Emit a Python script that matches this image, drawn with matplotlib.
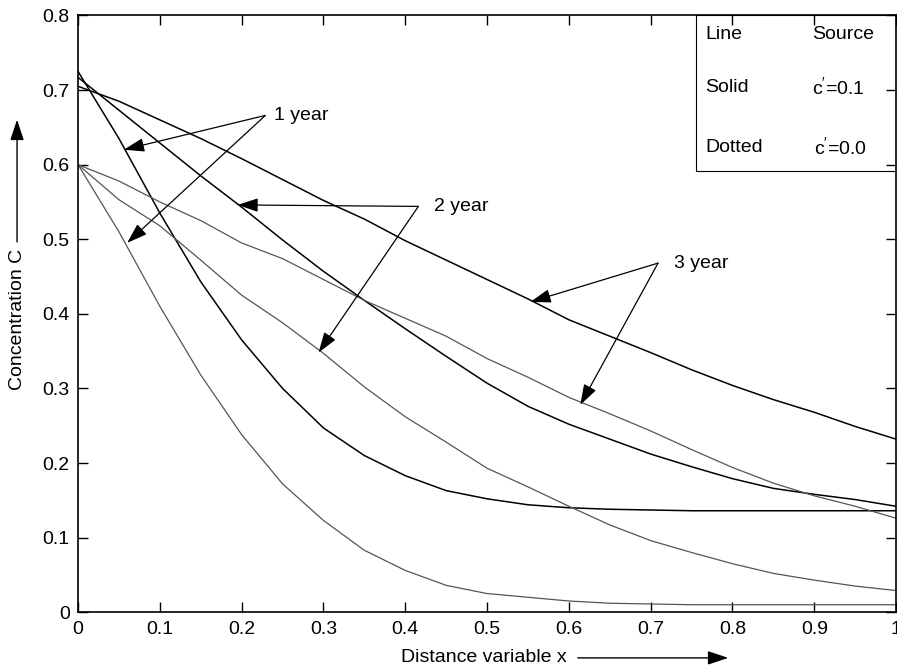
import numpy as np
import matplotlib
matplotlib.use("Agg")
import matplotlib.pyplot as plt
from matplotlib.patches import Rectangle, FancyArrowPatch

plt.rcParams["font.family"] = ["Liberation Sans", "DejaVu Sans"]
plt.rcParams["mathtext.fontset"] = "custom"
plt.rcParams["mathtext.rm"] = "Liberation Sans"

# distance grid
x = np.round(np.arange(0, 1.0001, 0.05), 2)

# solid lines, source c'=0.1
solid_1yr = [0.725, 0.635, 0.535, 0.443, 0.365, 0.30, 0.247, 0.21, 0.183, 0.163, 0.152,
             0.144, 0.140, 0.138, 0.137, 0.136, 0.136, 0.136, 0.136, 0.136, 0.136]
solid_2yr = [0.717, 0.673, 0.629, 0.585, 0.543, 0.499, 0.457, 0.418, 0.38, 0.343, 0.307,
             0.276, 0.252, 0.232, 0.212, 0.195, 0.179, 0.166, 0.158, 0.151, 0.142]
solid_3yr = [0.705, 0.685, 0.66, 0.635, 0.608, 0.58, 0.552, 0.527, 0.498, 0.472, 0.446,
             0.42, 0.392, 0.37, 0.348, 0.325, 0.304, 0.285, 0.268, 0.249, 0.232]

# dotted lines, source c'=0.0
dotted_1yr = [0.60, 0.51, 0.41, 0.318, 0.238, 0.172, 0.123, 0.083, 0.056, 0.036, 0.025,
              0.02, 0.015, 0.012, 0.011, 0.01, 0.01, 0.01, 0.01, 0.01, 0.01]
dotted_2yr = [0.60, 0.553, 0.518, 0.472, 0.425, 0.388, 0.347, 0.302, 0.262, 0.228, 0.193,
              0.168, 0.142, 0.117, 0.096, 0.08, 0.065, 0.052, 0.043, 0.035, 0.029]
dotted_3yr = [0.60, 0.578, 0.55, 0.525, 0.495, 0.474, 0.446, 0.418, 0.394, 0.37, 0.34,
              0.315, 0.288, 0.266, 0.243, 0.218, 0.194, 0.173, 0.156, 0.142, 0.126]

xticks = [0, 0.1, 0.2, 0.3, 0.4, 0.5, 0.6, 0.7, 0.8, 0.9, 1.0]
xtick_labels = ["0", "0.1", "0.2", "0.3", "0.4", "0.5", "0.6", "0.7", "0.8", "0.9", "1"]
yticks = [0, 0.1, 0.2, 0.3, 0.4, 0.5, 0.6, 0.7, 0.8]
ytick_labels = ["0", "0.1", "0.2", "0.3", "0.4", "0.5", "0.6", "0.7", "0.8"]

# annotation: label, text position, arrow tail, arrow heads
notes = [
    ("1 year", (0.239, 0.666), (0.229, 0.666), [(0.056, 0.620), (0.060, 0.495)]),
    ("2 year", (0.435, 0.544), (0.416, 0.544), [(0.195, 0.546), (0.294, 0.348)]),
    ("3 year", (0.728, 0.468), (0.709, 0.468), [(0.553, 0.416), (0.614, 0.278)]),
]

fig = plt.figure(figsize=(8.97, 6.72), dpi=100)
ax = fig.add_axes([0.087, 0.089, 0.912, 0.888])

for yv in (solid_1yr, solid_2yr, solid_3yr):
    ax.plot(x, yv, color="black", lw=1.1)
for yv in (dotted_1yr, dotted_2yr, dotted_3yr):
    ax.plot(x, yv, color="#555555", lw=0.9)

arrow_kw = dict(arrowstyle="-|>,head_length=0.9,head_width=0.3", color="black",
                lw=0.9, mutation_scale=14, shrinkA=0, shrinkB=0)
for label, tpos, tail, heads in notes:
    ax.text(tpos[0], tpos[1], label, fontsize=14, va="center", ha="left")
    for h in heads:
        ax.annotate("", xy=h, xytext=tail, arrowprops=arrow_kw)

# legend-like box
ax.add_patch(Rectangle((0.755, 0.592), 0.245, 0.208, fill=False, edgecolor="black",
                       lw=0.8, zorder=1))
ax.text(0.767, 0.775, "Line", fontsize=14, va="center")
ax.text(0.897, 0.775, "Source", fontsize=14, va="center")
ax.text(0.767, 0.703, "Solid", fontsize=14, va="center")
ax.text(0.897, 0.703, "c$^{\\prime}$=0.1", fontsize=14, va="center")
ax.text(0.767, 0.623, "Dotted", fontsize=14, va="center")
ax.text(0.900, 0.623, "c$^{\\prime}$=0.0", fontsize=14, va="center")

ax.set_xlim(0, 1)
ax.set_ylim(0, 0.8)
ax.set_xticks(xticks, xtick_labels)
ax.set_yticks(yticks, ytick_labels)
ax.tick_params(direction="in", length=7, width=1, top=True, right=True, labelsize=14, pad=6)
for s in ax.spines.values():
    s.set_linewidth(1.2)

# axis labels with arrows
fig.text(0.019, 0.525, "Concentration C", rotation=90, fontsize=14, ha="center", va="center")
fig.add_artist(FancyArrowPatch(
    (0.019, 0.636), (0.019, 0.826), transform=fig.transFigure,
    arrowstyle="-|>,head_length=0.9,head_width=0.3", mutation_scale=14, lw=1, color="black"))
fig.text(0.539, 0.021, "Distance variable x", fontsize=14, ha="center", va="center")
fig.add_artist(FancyArrowPatch(
    (0.641, 0.021), (0.815, 0.021), transform=fig.transFigure,
    arrowstyle="-|>,head_length=0.9,head_width=0.3", mutation_scale=14, lw=1, color="black"))

fig.savefig("out.png", dpi=100)
